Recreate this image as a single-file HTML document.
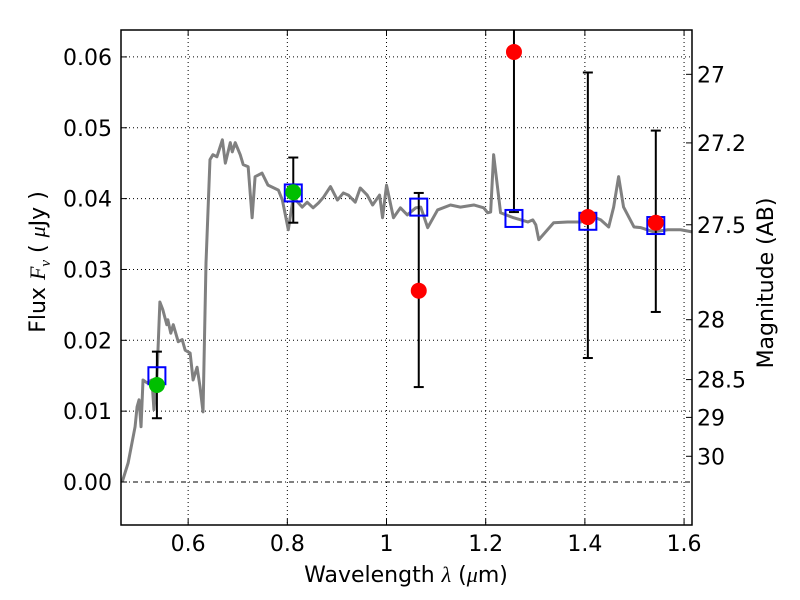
<!DOCTYPE html>
<html><head><meta charset="utf-8"><style>
body{margin:0;background:#fff}
svg{display:block;font-family:"DejaVu Sans","Liberation Sans",sans-serif}
</style></head><body>
<svg id="c" width="800" height="600"></svg>
<script>
const specWave=[0.467,0.479,0.493,0.497,0.501,0.505,0.509,0.517,0.527,0.531,0.537,0.543,0.549,0.557,0.559,0.565,0.570,0.580,0.588,0.594,0.604,0.610,0.618,0.624,0.630,0.636,0.644,0.650,0.658,0.669,0.675,0.685,0.689,0.695,0.705,0.711,0.721,0.729,0.735,0.749,0.761,0.782,0.790,0.802,0.812,0.830,0.840,0.852,0.863,0.873,0.887,0.901,0.913,0.923,0.937,0.947,0.961,0.972,0.986,0.992,1.000,1.014,1.028,1.042,1.059,1.069,1.083,1.103,1.129,1.149,1.176,1.196,1.204,1.210,1.216,1.230,1.256,1.285,1.295,1.301,1.307,1.337,1.365,1.392,1.418,1.432,1.448,1.458,1.468,1.478,1.499,1.513,1.539,1.567,1.593,1.616];
const specFlux=[0,0.0027,0.0078,0.0106,0.0116,0.0078,0.0144,0.0140,0.0144,0.0102,0.0148,0.0254,0.0243,0.0222,0.0229,0.0210,0.0222,0.0198,0.0201,0.0186,0.0182,0.0144,0.0162,0.0134,0.0099,0.0309,0.0455,0.0462,0.0459,0.0483,0.0450,0.0479,0.0466,0.0479,0.0462,0.0448,0.0445,0.0373,0.0431,0.0436,0.0419,0.0412,0.0398,0.0356,0.0402,0.0388,0.0395,0.0387,0.0394,0.0402,0.0417,0.0398,0.0408,0.0405,0.0395,0.0415,0.0405,0.0391,0.0405,0.0373,0.0419,0.0373,0.0387,0.0377,0.0387,0.0388,0.0359,0.0384,0.0391,0.0388,0.0391,0.0387,0.0380,0.0381,0.0462,0.0380,0.0373,0.0367,0.0370,0.0363,0.0342,0.0366,0.0367,0.0367,0.0374,0.0370,0.0360,0.0388,0.0431,0.0388,0.0360,0.0359,0.0353,0.0356,0.0356,0.0353];
const modelWave=[0.537,0.812,1.065,1.257,1.406,1.543];
const modelFlux=[0.0150,0.0408,0.0388,0.0372,0.0368,0.0362];
const detWave=[0.537,0.812];
const detFlux=[0.0137,0.0409];
const obsWave=[1.065,1.257,1.406,1.543];
const obsFlux=[0.0270,0.0607,0.0374,0.0366];
const errWave=[0.537,0.812,1.065,1.257,1.406,1.543];
const errLo=[0.0090,0.0366,0.0134,0.0381,0.0175,0.0240];
const errHi=[0.0184,0.0458,0.0408,0.0700,0.0578,0.0496];
const xTicks=[0.6,0.8,1.0,1.2,1.4,1.6];
const xTickLabels=["0.6","0.8","1","1.2","1.4","1.6"];
const yTicks=[0,0.01,0.02,0.03,0.04,0.05,0.06];
const yTickLabels=["0.00","0.01","0.02","0.03","0.04","0.05","0.06"];
const magTicks=[27,27.2,27.5,28,28.5,29,30];
const magTickLabels=["27","27.2","27.5","28","28.5","29","30"];

const L=121,R=692,T=30,B=525,xmin=0.4646,xmax=1.616,ymin=-0.00607,ymax=0.0638;
const X=v=>L+(v-xmin)/(xmax-xmin)*(R-L);
const Y=v=>B-(v-ymin)/(ymax-ymin)*(B-T);
const magToFlux=m=>Math.pow(10,(23.9-m)/2.5);
const svg=document.getElementById('c');const NS='http://www.w3.org/2000/svg';
function mk(t,a,p){const e=document.createElementNS(NS,t);for(const k in a)e.setAttribute(k,a[k]);(p||svg).appendChild(e);return e;}

const grid=mk('g',{});


xTicks.forEach(v=>{mk('line',{x1:X(v),x2:X(v),y1:T,y2:B,stroke:'#000','stroke-width':1,'stroke-dasharray':'1,3'},grid);});
yTicks.forEach(v=>{mk('line',{x1:L,x2:R,y1:Y(v),y2:Y(v),stroke:'#000','stroke-width':1,'stroke-dasharray':v===0?'5,3,1,3':'1,3'},grid);});

const sp=mk('polyline',{points:specWave.map((w,i)=>X(w)+','+Y(specFlux[i])).join(' '),fill:'none',stroke:'#808080','stroke-width':3,'stroke-linejoin':'round'});



const eg=mk('g',{});


errWave.forEach((w,i)=>{const x=X(w);mk('line',{x1:x,x2:x,y1:Y(errLo[i]),y2:Y(errHi[i]),stroke:'#000','stroke-width':2},eg);
[errLo[i],errHi[i]].forEach(v=>mk('line',{x1:x-5,x2:x+5,y1:Y(v),y2:Y(v),stroke:'#000','stroke-width':2},eg));});

modelWave.forEach((w,i)=>{const r=mk('rect',{x:X(w)-8.5,y:Y(modelFlux[i])-8.5,width:17,height:17,fill:'none',stroke:'#0000ff','stroke-width':2});

});
detWave.forEach((w,i)=>{const c=mk('circle',{cx:X(w),cy:Y(detFlux[i]),r:8,fill:'#00bf00'});

});
obsWave.forEach((w,i)=>{const c=mk('circle',{cx:X(w),cy:Y(obsFlux[i]),r:8,fill:'#ff0000'});

});

mk('rect',{x:0,y:0,width:800,height:T,fill:'#fff'});
mk('rect',{x:0,y:B,width:800,height:75,fill:'#fff'});
const fr=mk('rect',{x:L,y:T,width:R-L,height:B-T,fill:'none',stroke:'#000','stroke-width':1.5});



xTicks.forEach((v,i)=>{mk('line',{x1:X(v),x2:X(v),y1:B,y2:B-6,stroke:'#000'});mk('line',{x1:X(v),x2:X(v),y1:T,y2:T+6,stroke:'#000'});
const t=mk('text',{x:X(v),y:B+26,'font-size':22,'text-anchor':'middle'});t.textContent=xTickLabels[i];

});
yTicks.forEach((v,i)=>{mk('line',{x1:L,x2:L+6,y1:Y(v),y2:Y(v),stroke:'#000'});
const t=mk('text',{x:112,y:Y(v)+8,'font-size':22,'text-anchor':'end'});t.textContent=yTickLabels[i];

});
magTicks.forEach((m,i)=>{const y=Y(magToFlux(m));mk('line',{x1:R,x2:R-6,y1:y,y2:y,stroke:'#000'});
const t=mk('text',{x:697,y:y+8,'font-size':22});t.textContent=magTickLabels[i];

});

const xt=mk('text',{x:406,y:582,'font-size':22,'text-anchor':'middle'});
xt.innerHTML='Wavelength  <tspan font-family="Liberation Serif,serif" font-style="italic">λ</tspan> (<tspan font-family="Liberation Serif,serif" font-style="italic">μ</tspan>m)';


const yt=mk('text',{x:0,y:0,'font-size':22,'text-anchor':'middle',transform:'translate(45,262) rotate(-90)'});
yt.innerHTML='Flux  <tspan font-family="Liberation Serif,serif" font-style="italic">F</tspan><tspan font-family="Liberation Serif,serif" font-style="italic" font-size="15" dy="5">ν</tspan><tspan dy="-5">  ( </tspan><tspan font-family="Liberation Serif,serif" font-style="italic">μ</tspan>Jy )';


const rt=mk('text',{x:0,y:0,'font-size':22,'text-anchor':'middle',transform:'translate(773,283) rotate(-90)'});
rt.textContent='Magnitude (AB)';


</script>
</body></html>
